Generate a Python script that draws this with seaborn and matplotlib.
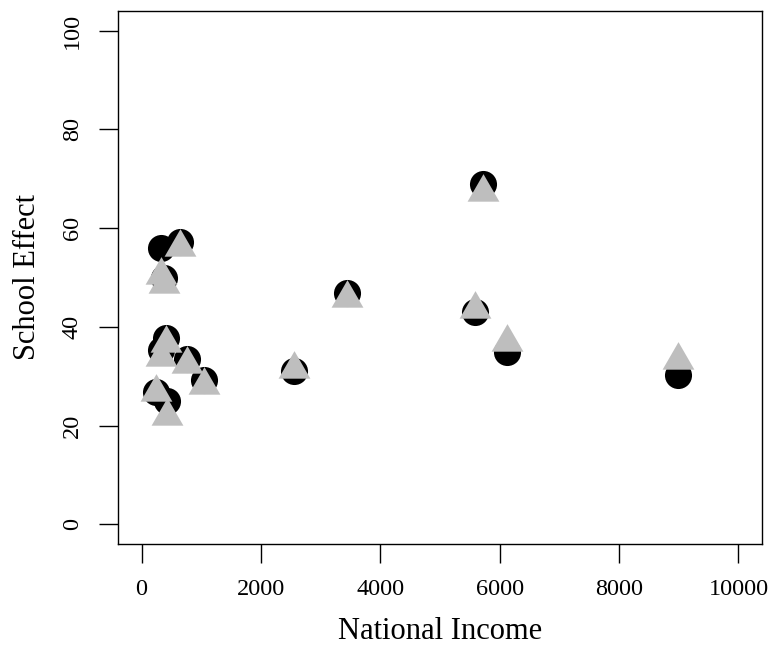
import numpy as np
import pandas as pd
import matplotlib
matplotlib.use("Agg")
import matplotlib.pyplot as plt
import seaborn as sns
from matplotlib.path import Path

# Data
national_income = [240, 320, 330, 370, 410, 420, 650, 760, 1040, 2550, 3450, 5580, 5720, 6120, 8980]
effect_circles = [26.9, 55.9, 35.4, 50.0, 37.7, 25.0, 57.1, 33.4, 29.3, 31.0, 46.8, 43.1, 69.0, 35.0, 30.3]
effect_triangles = [26.7, 50.6, 33.8, 48.7, 36.8, 22.0, 56.2, 32.4, 28.3, 31.4, 45.9, 43.6, 67.4, 37.0, 33.3]
x_ticks = [0, 2000, 4000, 6000, 8000, 10000]
y_ticks = [0, 20, 40, 60, 80, 100]

sns.set_theme(style="white")
plt.rcParams['font.family'] = ['Liberation Serif', 'DejaVu Serif']

df = pd.DataFrame({"income": national_income,
                   "circ": effect_circles,
                   "tri": effect_triangles})

fig = plt.figure(figsize=(7.73, 6.45), dpi=100)
ax = fig.add_axes([117.7 / 773, 101 / 645, (762.3 - 117.7) / 773, 533 / 645])

# R-style triangle (centred on its centroid)
tri_marker = Path([(0, 1), (-0.866, -0.5), (0.866, -0.5), (0, 1)],
                  [Path.MOVETO, Path.LINETO, Path.LINETO, Path.CLOSEPOLY])

sns.scatterplot(data=df, x="income", y="circ", ax=ax, marker="o", s=380,
                color="black", linewidth=0, zorder=3)
sns.scatterplot(data=df, x="income", y="tri", ax=ax, marker=tri_marker, s=700,
                color="#bebebe", linewidth=0, zorder=4)

ax.set_xlim(-400, 10400)
ax.set_ylim(-4, 104)
ax.set_xticks(x_ticks)
ax.set_yticks(y_ticks)
ax.set_xticklabels([str(v) for v in x_ticks])
ax.set_yticklabels([str(v) for v in y_ticks], rotation=90, va="center")

for sp in ax.spines.values():
    sp.set_visible(True)
    sp.set_color("black")
    sp.set_linewidth(1.0)

ax.tick_params(axis="both", which="major", direction="out", length=13.7,
               width=1.0, color="black", labelsize=17.5, labelcolor="black",
               bottom=True, left=True, pad=11.5)
ax.grid(False)

ax.set_xlabel("National Income", fontsize=22, color="black")
ax.set_ylabel("School Effect", fontsize=22, color="black")
ax.xaxis.set_label_coords(0.5, -0.137)
ax.yaxis.set_label_coords(-0.118, 0.5)

fig.savefig("out.png", dpi=100, facecolor="white")
